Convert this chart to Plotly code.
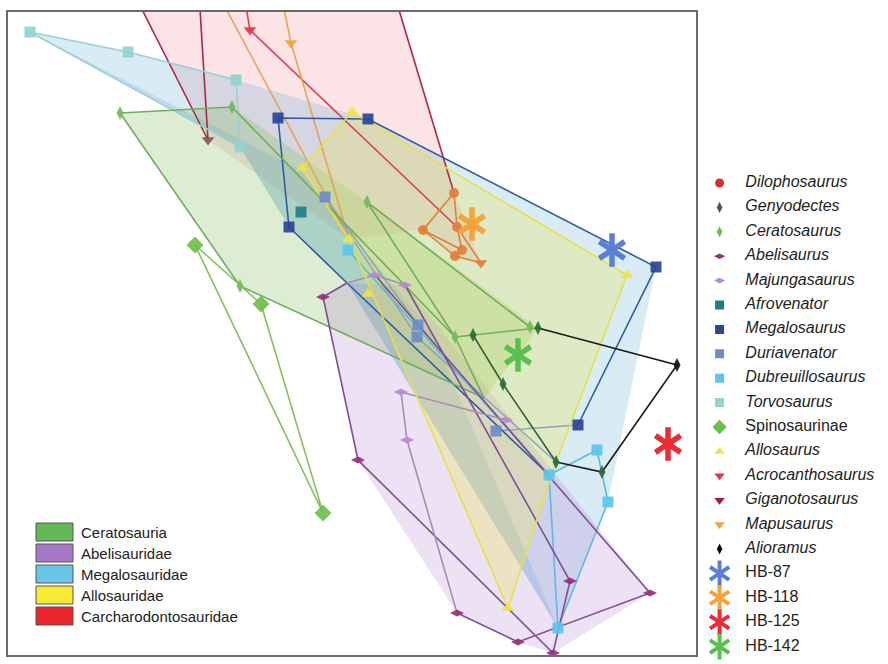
import plotly.graph_objects as go

# ---------------------------------------------------------------------------
# Morphospace coordinates (arbitrary units, y grows downward)
# ---------------------------------------------------------------------------

# Convex-hull outlines of the five clades
HULL_NAMES = ["Ceratosauria", "Abelisauridae", "Megalosauridae", "Allosauridae",
              "Carcharodontosauridae"]
CERATOSAURIA_HULL_X = [120, 232, 367, 538, 484, 240]
CERATOSAURIA_HULL_Y = [113, 107, 202, 328, 398, 286]
ABELISAURIDAE_HULL_X = [323, 347, 405, 650, 553, 518, 457, 358]
ABELISAURIDAE_HULL_Y = [297, 283, 285, 593, 653, 642, 613, 460]
MEGALOSAURIDAE_HULL_X = [30, 128, 236, 368, 656, 608, 558, 347, 289, 240]
MEGALOSAURIDAE_HULL_Y = [32, 52, 80, 119, 267, 502, 628, 283, 227, 147]
MEGALOSAURIDAE_CORE_X = [30, 240, 289, 347, 558, 430, 300]
MEGALOSAURIDAE_CORE_Y = [32, 147, 227, 283, 628, 330, 170]
ALLOSAURIDAE_HULL_X = [302, 352, 627, 556, 508, 349]
ALLOSAURIDAE_HULL_Y = [168, 112, 275, 462, 608, 239]
CARCHARODONTOSAURIDAE_HULL_X = [117, 208, 349, 423, 455, 481, 454, 384]
CARCHARODONTOSAURIDAE_HULL_Y = [-40, 140, 239, 230, 256, 263, 193, -40]

# Specimen positions per taxon (markers) and the links drawn between them
TORVOSAURUS_X = [30, 128, 236, 240]
TORVOSAURUS_Y = [32, 52, 80, 147]
TORVOSAURUS_LINK_X = [30, 128, 236, 240, 30]
TORVOSAURUS_LINK_Y = [32, 52, 80, 147, 32]

MEGALOSAURUS_X = [278, 368, 656, 578, 289]
MEGALOSAURUS_Y = [118, 119, 267, 425, 227]
MEGALOSAURUS_LINK_X = [289, 278, 368, 656, 578, None, 289, 347, 549]
MEGALOSAURUS_LINK_Y = [227, 118, 119, 267, 425, None, 227, 283, 475]

AFROVENATOR_X = [301]
AFROVENATOR_Y = [212]

DURIAVENATOR_X = [325, 418, 417, 496]
DURIAVENATOR_Y = [197, 325, 337, 431]
DURIAVENATOR_LINK_X = [325, 418, 549, None, 325, 417, 556, None, 496, 578]
DURIAVENATOR_LINK_Y = [197, 325, 475, None, 197, 337, 462, None, 431, 425]

DUBREUILLOSAURUS_X = [348, 597, 608, 558, 549]
DUBREUILLOSAURUS_Y = [250, 450, 502, 628, 475]
DUBREUILLOSAURUS_LINK_X = [348, 549, 558, 608, 597, 549]
DUBREUILLOSAURUS_LINK_Y = [250, 475, 628, 502, 450, 475]

CERATOSAURUS_X = [120, 232, 367, 455, 530, 240]
CERATOSAURUS_Y = [113, 107, 202, 337, 327, 286]
CERATOSAURUS_LINK_X = [240, 120, 232, 455, 538, None, 367, 455, None, 367, 530,
                       None, 240, 484, 455]
CERATOSAURUS_LINK_Y = [286, 113, 107, 337, 328, None, 202, 337, None, 202, 327,
                       None, 286, 398, 337]

GENYODECTES_X = [473, 503, 556, 538, 602]
GENYODECTES_Y = [335, 384, 462, 328, 472]
GENYODECTES_LINK_X = [473, 503, 556]
GENYODECTES_LINK_Y = [335, 384, 462]

ALIORAMUS_X = [677]
ALIORAMUS_Y = [365]
ALIORAMUS_LINK_X = [538, 677, 602, 556]
ALIORAMUS_LINK_Y = [328, 365, 472, 462]

SPINOSAURINAE_X = [195, 261, 323]
SPINOSAURINAE_Y = [245, 304, 513]
SPINOSAURINAE_LINK_X = [195, 261, 323, 195]
SPINOSAURINAE_LINK_Y = [245, 304, 513, 245]

ABELISAURUS_X = [323, 358, 457, 518, 553, 650, 570]
ABELISAURUS_Y = [297, 460, 613, 642, 653, 593, 581]
ABELISAURUS_LINK_X = [347, 323, 358, 553, 570, 405, None, 457, 518, 650, 375]
ABELISAURUS_LINK_Y = [283, 297, 460, 653, 581, 285, None, 613, 642, 593, 275]

MAJUNGASAURUS_X = [401, 407, 506, 375, 405]
MAJUNGASAURUS_Y = [392, 440, 420, 275, 285]
MAJUNGASAURUS_LINK_X = [347, 375, 405, None, 506, 401, 407, 457]
MAJUNGASAURUS_LINK_Y = [283, 275, 285, None, 420, 392, 440, 613]

ALLOSAURUS_X = [352, 302, 627, 349, 508, 368]
ALLOSAURUS_Y = [112, 168, 275, 239, 608, 294]
ALLOSAURUS_LINK_X = [302, 352, 627, 556, 508, 349, 302]
ALLOSAURUS_LINK_Y = [168, 112, 275, 462, 608, 239, 168]

ACROCANTHOSAURUS_X = [250]
ACROCANTHOSAURUS_Y = [30]
ACROCANTHOSAURUS_LINK_X = [238, 250, 457]
ACROCANTHOSAURUS_LINK_Y = [-40, 30, 227]

GIGANOTOSAURUS_X = [208]
GIGANOTOSAURUS_Y = [140]
GIGANOTOSAURUS_LINK_X = [117, 208, 197, None, 384, 454]
GIGANOTOSAURUS_LINK_Y = [-40, 140, -40, None, -40, 193]

MAPUSAURUS_X = [291]
MAPUSAURUS_Y = [43]
MAPUSAURUS_LINK_X = [274, 291, 349, 200]
MAPUSAURUS_LINK_Y = [-40, 43, 239, -40]

CARCH_CLUSTER_X = [454, 423, 457, 455, 462]
CARCH_CLUSTER_Y = [193, 230, 227, 256, 250]
CARCH_CLUSTER_TIP_X = [481]
CARCH_CLUSTER_TIP_Y = [263]
CARCH_CLUSTER_LINK_X = [454, 423, 455, 481, 457, 454, None, 423, 462, 457]
CARCH_CLUSTER_LINK_Y = [193, 230, 256, 263, 227, 193, None, 230, 250, 227]

# Unassigned specimens
HB_NAMES = ["HB-87", "HB-118", "HB-125", "HB-142"]
HB_X = [612, 472, 668, 518]
HB_Y = [250, 224, 444, 355]

# Taxon key, in display order
SPECIES = ["Dilophosaurus", "Genyodectes", "Ceratosaurus", "Abelisaurus",
           "Majungasaurus", "Afrovenator", "Megalosaurus", "Duriavenator",
           "Dubreuillosaurus", "Torvosaurus", "Spinosaurinae", "Allosaurus",
           "Acrocanthosaurus", "Giganotosaurus", "Mapusaurus", "Alioramus",
           "HB-87", "HB-118", "HB-125", "HB-142"]
NON_ITALIC = {"Spinosaurinae", "HB-87", "HB-118", "HB-125", "HB-142"}

# ---------------------------------------------------------------------------
# Styling
# ---------------------------------------------------------------------------
STYLE = {
    "Dilophosaurus": ("#d3302f", "circle", 11),
    "Genyodectes": ("#2e6b36", "diamond-tall", 10),
    "Ceratosaurus": ("#76b95a", "diamond-tall", 10),
    "Abelisaurus": ("#96307c", "diamond-wide", 10),
    "Majungasaurus": ("#b48ccf", "diamond-wide", 10),
    "Afrovenator": ("#1f7f86", "square", 11),
    "Megalosaurus": ("#2b4399", "square", 11),
    "Duriavenator": ("#6f8bc6", "square", 11),
    "Dubreuillosaurus": ("#5cc6ea", "square", 11),
    "Torvosaurus": ("#93d3d0", "square", 11),
    "Spinosaurinae": ("#6cc04a", "diamond", 13),
    "Allosaurus": ("#f0e445", "triangle-up", 11),
    "Acrocanthosaurus": ("#e5344b", "triangle-down", 11),
    "Giganotosaurus": ("#a11d3a", "triangle-down", 11),
    "Mapusaurus": ("#f0a53c", "triangle-down", 11),
    "Alioramus": ("#111111", "diamond-tall", 10),
    "HB-87": ("#5b7fd3", "star", 0),
    "HB-118": ("#f5a23a", "star", 0),
    "HB-125": ("#ee2b33", "star", 0),
    "HB-142": ("#5bbf4f", "star", 0),
}
HULL_FILL = ["rgba(125,185,85,0.26)", "rgba(175,120,205,0.22)",
             "rgba(95,170,215,0.24)", "rgba(235,232,80,0.30)",
             "rgba(240,100,115,0.18)"]
HULL_SWATCH = ["#62b956", "#a878c8", "#6ac6e6", "#f6ea32", "#e8262c"]

FONT = "Liberation Sans, Arial, sans-serif"
W, H = 888, 664
FRAME_L, FRAME_R, FRAME_T, FRAME_B = 8, 696, 12, 655

fig = go.Figure()


def hull(xs, ys, fill):
    fig.add_trace(go.Scatter(x=xs + xs[:1], y=ys + ys[:1], mode="lines",
                             fill="toself", fillcolor=fill,
                             line=dict(width=0), hoverinfo="skip",
                             showlegend=False))


def links(xs, ys, color, width=1.6):
    fig.add_trace(go.Scatter(x=xs, y=ys, mode="lines",
                             line=dict(color=color, width=width),
                             hoverinfo="skip", showlegend=False))


def points(xs, ys, name, color=None, symbol=None, size=None):
    c, s, z = STYLE[name]
    fig.add_trace(go.Scatter(
        x=xs, y=ys, mode="markers", name=name,
        marker=dict(color=color or c, symbol=symbol or s, size=size or z,
                    opacity=0.92, line=dict(width=0)),
        showlegend=False))


def star(xs, ys, color, size, width, xaxis="x", yaxis="y"):
    # six-armed asterisk built from two opposite "Y" glyphs
    for sym in ("y-up-open", "y-down-open"):
        fig.add_trace(go.Scatter(
            x=xs, y=ys, mode="markers", xaxis=xaxis, yaxis=yaxis,
            marker=dict(symbol=sym, size=size, color=color,
                        line=dict(color=color, width=width)),
            hoverinfo="skip", showlegend=False))


# clade hulls
hull(CARCHARODONTOSAURIDAE_HULL_X, CARCHARODONTOSAURIDAE_HULL_Y, HULL_FILL[4])
hull(MEGALOSAURIDAE_HULL_X, MEGALOSAURIDAE_HULL_Y, HULL_FILL[2])
hull(MEGALOSAURIDAE_CORE_X, MEGALOSAURIDAE_CORE_Y, HULL_FILL[2])
hull(CERATOSAURIA_HULL_X, CERATOSAURIA_HULL_Y, HULL_FILL[0])
hull(ABELISAURIDAE_HULL_X, ABELISAURIDAE_HULL_Y, HULL_FILL[1])
hull(ALLOSAURIDAE_HULL_X, ALLOSAURIDAE_HULL_Y, HULL_FILL[3])

# links between specimens
links(GIGANOTOSAURUS_LINK_X, GIGANOTOSAURUS_LINK_Y, "#a8294a")
links(ACROCANTHOSAURUS_LINK_X, ACROCANTHOSAURUS_LINK_Y, "#d8404e")
links(MAPUSAURUS_LINK_X, MAPUSAURUS_LINK_Y, "#e3a55a")
links(TORVOSAURUS_LINK_X, TORVOSAURUS_LINK_Y, "#9ccfd2")
links(DURIAVENATOR_LINK_X, DURIAVENATOR_LINK_Y, "#8d9fb6", 1.3)
links(DUBREUILLOSAURUS_LINK_X, DUBREUILLOSAURUS_LINK_Y, "#62b8e0")
links(MEGALOSAURUS_LINK_X, MEGALOSAURUS_LINK_Y, "#2f5c9c")
links(CERATOSAURUS_LINK_X, CERATOSAURUS_LINK_Y, "#72ad5a")
links(SPINOSAURINAE_LINK_X, SPINOSAURINAE_LINK_Y, "#84c15f")
links(ABELISAURUS_LINK_X, ABELISAURUS_LINK_Y, "#7e4f98")
links(MAJUNGASAURUS_LINK_X, MAJUNGASAURUS_LINK_Y, "#a98bb9")
links(ALLOSAURUS_LINK_X, ALLOSAURUS_LINK_Y, "#e6df4f")
links(GENYODECTES_LINK_X, GENYODECTES_LINK_Y, "#33603a")
links(ALIORAMUS_LINK_X, ALIORAMUS_LINK_Y, "#1a1a1a")
links(CARCH_CLUSTER_LINK_X, CARCH_CLUSTER_LINK_Y, "#e0803c")

# specimens
points(TORVOSAURUS_X, TORVOSAURUS_Y, "Torvosaurus")
points(DURIAVENATOR_X, DURIAVENATOR_Y, "Duriavenator")
points(DUBREUILLOSAURUS_X, DUBREUILLOSAURUS_Y, "Dubreuillosaurus")
points(MEGALOSAURUS_X, MEGALOSAURUS_Y, "Megalosaurus")
points(AFROVENATOR_X, AFROVENATOR_Y, "Afrovenator")
points(CERATOSAURUS_X, CERATOSAURUS_Y, "Ceratosaurus")
points(SPINOSAURINAE_X, SPINOSAURINAE_Y, "Spinosaurinae")
points(ABELISAURUS_X, ABELISAURUS_Y, "Abelisaurus")
points(MAJUNGASAURUS_X, MAJUNGASAURUS_Y, "Majungasaurus")
points(ALLOSAURUS_X, ALLOSAURUS_Y, "Allosaurus")
points(GENYODECTES_X, GENYODECTES_Y, "Genyodectes")
points(ALIORAMUS_X, ALIORAMUS_Y, "Alioramus")
points(ACROCANTHOSAURUS_X, ACROCANTHOSAURUS_Y, "Acrocanthosaurus")
points(GIGANOTOSAURUS_X, GIGANOTOSAURUS_Y, "Giganotosaurus", color="#7f5a58")
points(MAPUSAURUS_X, MAPUSAURUS_Y, "Mapusaurus")
points(CARCH_CLUSTER_X, CARCH_CLUSTER_Y, "Dilophosaurus", color="#e27d3a",
       size=10)
points(CARCH_CLUSTER_TIP_X, CARCH_CLUSTER_TIP_Y, "Mapusaurus", color="#e27d3a")

for name, x, y in zip(HB_NAMES, HB_X, HB_Y):
    star([x], [y], STYLE[name][0], 21, 5.5)

# ---------------------------------------------------------------------------
# Taxon key on the right (own axes so it sits outside the frame)
# ---------------------------------------------------------------------------
KEY_MARK_X, KEY_TEXT_X, KEY_Y0, KEY_STEP = 718, 744, 183, 24.4
for i, name in enumerate(SPECIES):
    y = KEY_Y0 + i * KEY_STEP
    color, symbol, size = STYLE[name]
    if symbol == "star":
        star([KEY_MARK_X], [y], color, 16, 4, "x2", "y2")
    else:
        fig.add_trace(go.Scatter(
            x=[KEY_MARK_X], y=[y], mode="markers", xaxis="x2", yaxis="y2",
            marker=dict(color=color, symbol=symbol, size=size - 2),
            hoverinfo="skip", showlegend=False))
label = [n if n in NON_ITALIC else f"<i>{n}</i>" for n in SPECIES]
fig.add_trace(go.Scatter(
    x=[KEY_TEXT_X] * len(SPECIES),
    y=[KEY_Y0 + i * KEY_STEP for i in range(len(SPECIES))],
    mode="text", text=label, textposition="middle right",
    textfont=dict(family=FONT, size=16, color="#222222"),
    xaxis="x2", yaxis="y2", hoverinfo="skip", showlegend=False))

# ---------------------------------------------------------------------------
# Clade key (bottom left, inside the frame)
# ---------------------------------------------------------------------------
SW_X0, SW_X1, SW_Y0, SW_STEP, SW_H = 36, 73, 532, 21, 18
shapes = []
annotations = []
for i, (name, col) in enumerate(zip(HULL_NAMES, HULL_SWATCH)):
    yc = SW_Y0 + i * SW_STEP
    shapes.append(dict(type="rect", xref="x", yref="y", x0=SW_X0, x1=SW_X1,
                       y0=yc - SW_H / 2, y1=yc + SW_H / 2, fillcolor=col,
                       line=dict(color="#555555", width=1), layer="above"))
    annotations.append(dict(x=SW_X1 + 6, y=yc, xref="x", yref="y", text=name,
                            showarrow=False, xanchor="left", yanchor="middle",
                            font=dict(family=FONT, size=15, color="#222222")))

axis_off = dict(showgrid=False, zeroline=False, showticklabels=False,
                ticks="")
fig.update_layout(
    width=W, height=H, margin=dict(l=0, r=0, t=0, b=0),
    paper_bgcolor="white", plot_bgcolor="rgba(0,0,0,0)",
    xaxis=dict(domain=[FRAME_L / W, FRAME_R / W], range=[FRAME_L, FRAME_R],
               showline=True, mirror=True, linecolor="#6a6a6a", linewidth=2,
               **axis_off),
    yaxis=dict(domain=[1 - FRAME_B / H, 1 - FRAME_T / H],
               range=[FRAME_B, FRAME_T], showline=True, mirror=True,
               linecolor="#6a6a6a", linewidth=2, **axis_off),
    xaxis2=dict(domain=[FRAME_R / W + 0.002, 1], range=[FRAME_R, W],
                anchor="y2", visible=False),
    yaxis2=dict(domain=[0, 1], range=[H, 0], anchor="x2", visible=False),
    shapes=shapes, annotations=annotations, showlegend=False,
)

fig.write_html("out.html")
